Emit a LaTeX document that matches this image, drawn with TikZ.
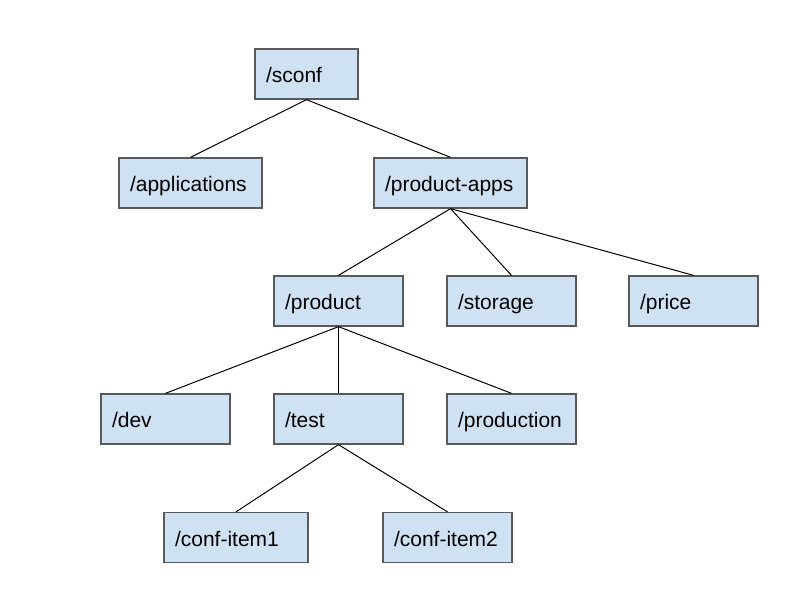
\documentclass[tikz,border=0pt]{standalone}
\usepackage{fontspec}
\setmainfont{Liberation Sans}
\definecolor{boxfill}{HTML}{CFE2F3}
\definecolor{boxline}{HTML}{595959}
\begin{document}
\begin{tikzpicture}[x=1pt,y=-1pt,
  box/.style={draw=boxline, fill=boxfill, line width=1.3pt, inner xsep=11pt, inner ysep=0pt,
    minimum height=50pt, text width=#1, align=left, font=\fontsize{21}{24}\selectfont,
    text height=17pt, text depth=0pt},
  link/.style={draw=black, line width=1pt}]
\fill[white] (0,0) rectangle (791,588);
\useasboundingbox (0,0) rectangle (791,588);
\node[box=81pt]  (sconf) at (306.5,74) {/sconf};
\node[box=121pt] (applications) at (190.5,183) {/applications};
\node[box=131pt] (productapps) at (450.5,183) {/product-apps};
\node[box=107pt] (product) at (338.5,301) {/product};
\node[box=107pt] (storage) at (511.5,301) {/storage};
\node[box=107pt] (price) at (693.5,301) {/price};
\node[box=107pt] (dev) at (165.5,419) {/dev};
\node[box=107pt] (test) at (338.5,419) {/test};
\node[box=107pt] (production) at (511.5,419) {/production};
\node[box=122pt] (item1) at (236,537.5) {/conf-item1};
\node[box=107pt] (item2) at (447.5,537.5) {/conf-item2};
\draw[link] (sconf.south) -- (applications.north);
\draw[link] (sconf.south) -- (productapps.north);
\draw[link] (productapps.south) -- (product.north);
\draw[link] (productapps.south) -- (storage.north);
\draw[link] (productapps.south) -- (price.north);
\draw[link] (product.south) -- (dev.north);
\draw[link] (product.south) -- (test.north);
\draw[link] (product.south) -- (production.north);
\draw[link] (test.south) -- (item1.north);
\draw[link] (test.south) -- (item2.north);
\end{tikzpicture}
\end{document}
